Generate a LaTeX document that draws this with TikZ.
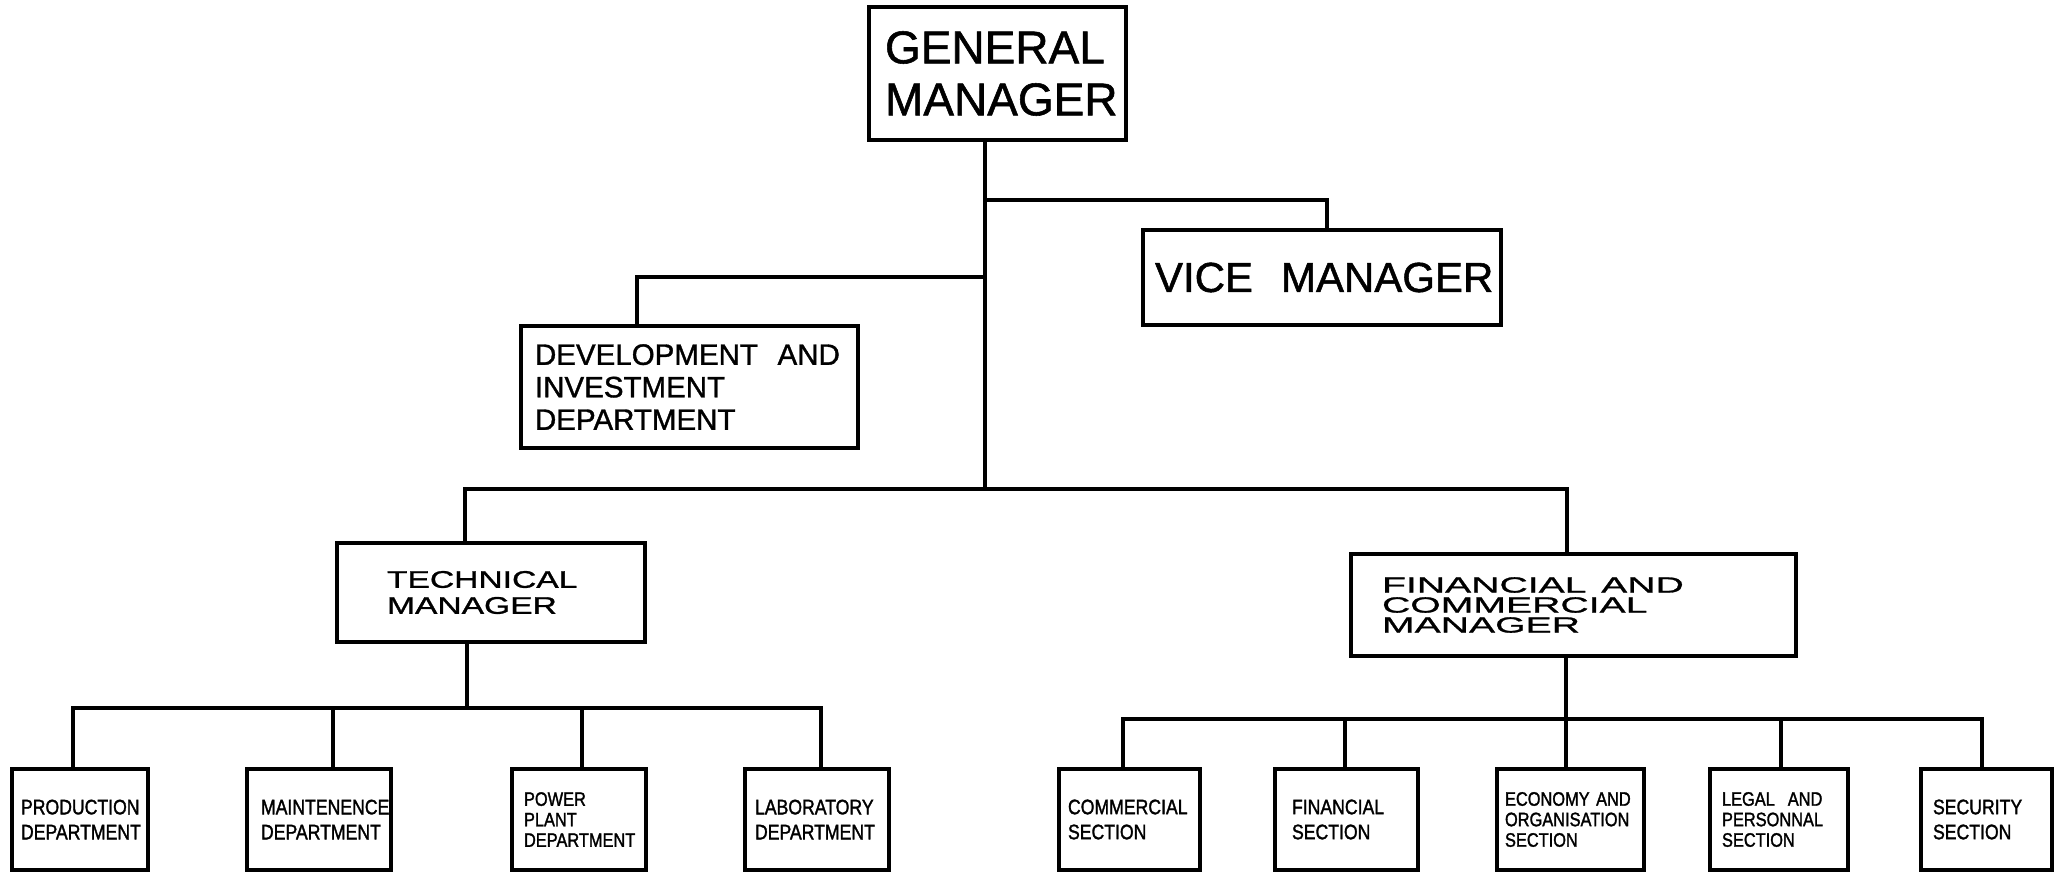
\documentclass[tikz,border=0pt]{standalone}
\usepackage{fontspec}
\setmainfont[FakeBold=1.2]{Liberation Sans}
\newfontfamily\condfont[FakeStretch=0.84,FakeBold=1.5]{Liberation Sans}
\newfontfamily\wideA[FakeStretch=1.4,FakeBold=1.2]{Liberation Sans}
\newfontfamily\wideB[FakeStretch=1.78,FakeBold=1.2]{Liberation Sans}
\hyphenpenalty=10000
\exhyphenpenalty=10000
\newcommand\orgbox[8]{%
  \pgfmathsetmacro\obcx{(#3+#5)/2}%
  \pgfmathsetmacro\obcy{(#4+#6)/2}%
  \pgfmathsetmacro\obw{#5-#3}%
  \pgfmathsetmacro\obh{#6-#4}%
  \pgfmathsetmacro\obtw{#5-#3-2*#7}%
  \node[box,#2,minimum width=\obw pt,minimum height=\obh pt,inner xsep=#7pt,text width=\obtw pt] (#1) at (\obcx,\obcy) {#8};}
\begin{document}
\begin{tikzpicture}[x=1pt,y=-1pt,
  box/.style={draw, line width=3.2pt, rectangle, inner ysep=0pt, align=left, anchor=center},
  conn/.style={line width=3.2pt, line cap=rect, line join=miter},
  gmf/.style={font=\fontsize{46}{52}\selectfont},
  vmf/.style={font=\fontsize{42}{48}\selectfont},
  devf/.style={font=\fontsize{29.5}{32.5}\selectfont},
  tmf/.style={font=\wideA\fontsize{24}{26}\selectfont},
  fcmf/.style={font=\wideB\fontsize{22}{20}\selectfont},
  botf/.style={font=\condfont\fontsize{21}{25}\selectfont},
  bot3f/.style={font=\condfont\fontsize{19.5}{20.5}\selectfont}]
\useasboundingbox (0,0) rectangle (2055,873);
% top levels
\orgbox{gm}{gmf}{869}{7}{1126}{140}{16}{GENERAL\\MANAGER}
\orgbox{vm}{vmf}{1143}{230}{1501}{325}{12}{VICE~~MANAGER}
\orgbox{dev}{devf}{521}{326}{858}{448}{14}{DEVELOPMENT~~AND\\INVESTMENT\\DEPARTMENT}
\orgbox{tm}{tmf}{337}{543}{645}{642}{50}{TECHNICAL\\MANAGER}
\orgbox{fcm}{fcmf}{1351}{554}{1796}{656}{31}{FINANCIAL~~AND\\COMMERCIAL\\MANAGER}
% bottom row
\orgbox{p1}{botf}{12}{769}{148}{870}{9}{PRODUCTION\\DEPARTMENT}
\orgbox{p2}{botf}{247}{769}{391}{870}{14}{MAINTENENCE\\DEPARTMENT}
\orgbox{p3}{bot3f}{512}{769}{646}{870}{12}{POWER\\PLANT\\DEPARTMENT}
\orgbox{p4}{botf}{745}{769}{889}{870}{10}{LABORATORY\\DEPARTMENT}
\orgbox{q1}{botf}{1059}{769}{1200}{870}{9}{COMMERCIAL\\SECTION}
\orgbox{q2}{botf}{1275}{769}{1418}{870}{17}{FINANCIAL\\SECTION}
\orgbox{q3}{bot3f}{1497}{769}{1644}{870}{8}{ECONOMY~AND\\ORGANISATION\\SECTION}
\orgbox{q4}{bot3f}{1710}{769}{1848}{870}{12}{LEGAL~~AND\\PERSONNAL\\SECTION}
\orgbox{q5}{botf}{1921}{769}{2052}{870}{12}{SECURITY\\SECTION}
% junctions
\coordinate (jv) at (985,200);
\coordinate (jd) at (985,277);
\coordinate (jm) at (985,489);
\coordinate (bl) at (465,489);
\coordinate (br) at (1567,489);
\coordinate (tb) at (467,708);
\coordinate (fb) at (1566,719);
\coordinate (d1) at (73,708);
\coordinate (d2) at (333,708);
\coordinate (d3) at (582,708);
\coordinate (d4) at (821,708);
\coordinate (e1) at (1123,719);
\coordinate (e2) at (1345,719);
\coordinate (e3) at (1566,719);
\coordinate (e4) at (1781,719);
\coordinate (e5) at (1982,719);
% connectors
\draw[conn] (gm.south -| jm) -- (jm);
\draw[conn] (jv) -| ([xshift=5pt]vm.north);
\draw[conn] (jd) -| ([xshift=-52.5pt]dev.north);
\draw[conn] (tm.north -| bl) -- (bl) -- (br) -- (fcm.north -| br);
\draw[conn] (tm.south -| tb) -- (tb);
\draw[conn] (d1) -- (d4);
\foreach \i in {1,...,4} {\draw[conn] (d\i) -- (d\i |- p\i.north);}
\draw[conn] (fcm.south -| fb) -- (fb);
\draw[conn] (e1) -- (e5);
\foreach \i in {1,...,5} {\draw[conn] (e\i) -- (e\i |- q\i.north);}
\end{tikzpicture}
\end{document}
